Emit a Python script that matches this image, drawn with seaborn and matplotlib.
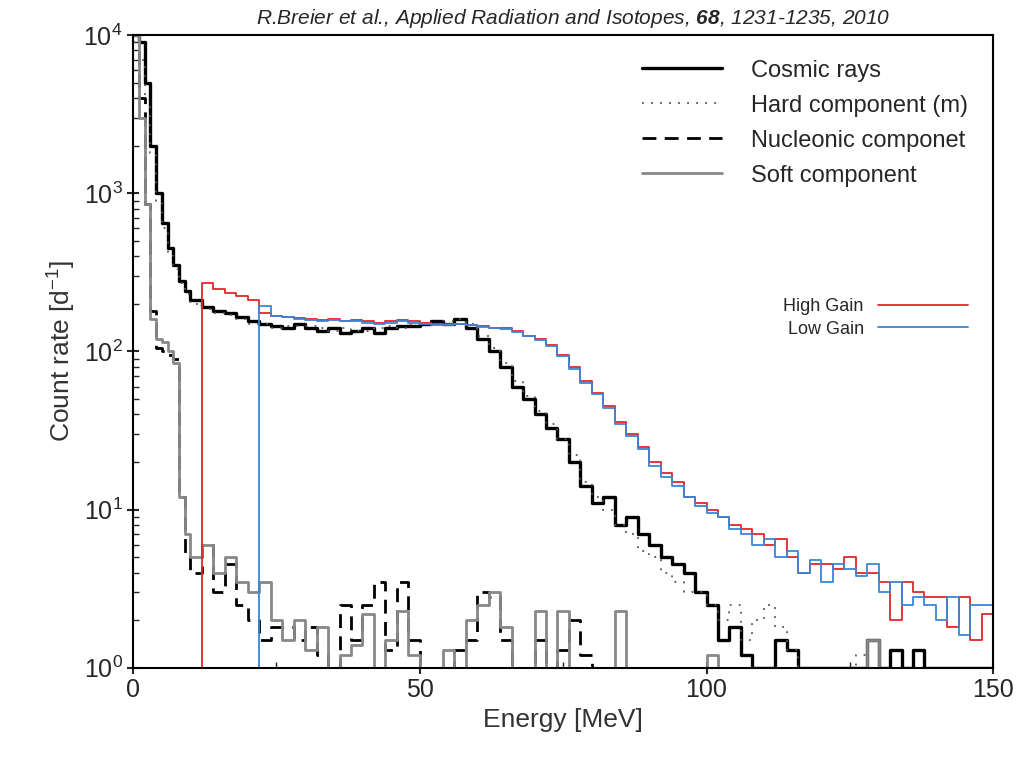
import numpy as np
import pandas as pd
import matplotlib
matplotlib.use('Agg')
import matplotlib.pyplot as plt
import seaborn as sns
from matplotlib.lines import Line2D

sns.set_theme(style='ticks')
plt.rcParams['font.family'] = ['Liberation Sans', 'DejaVu Sans']
plt.rcParams['mathtext.fontset'] = 'custom'
plt.rcParams['mathtext.it'] = 'Liberation Sans:italic'
plt.rcParams['mathtext.bf'] = 'Liberation Sans:bold:italic'
plt.rcParams['mathtext.rm'] = 'Liberation Sans'

# bin edges [MeV]: 1 MeV up to 10, then 2 MeV
edges = list(range(0, 10)) + list(range(10, 151, 2))

cosmic = [10000, 9000, 5000, 2000, 1000, 650, 450, 350, 280, 240,
          210, 190, 180, 175, 165, 155, 150, 145, 140, 150,
          140, 135, 140, 130, 135, 140, 130, 140, 145, 145,
          150, 155, 150, 160, 140, 120, 100, 80, 60, 50,
          40, 33, 28, 20, 14, 11, 12, 8, 9, 7,
          6, 5, 4.5, 4, 3, 2.5, 1.5, 1.8, 1.2, 1.0,
          1.0, 1.5, 1.3, 1.0, 1.0, 1.0, 1.0, 1.0, 1.0, 1.5,
          1.0, 1.3, 1.0, 1.3, 1.0, 1.0, 1.0, 1.0, 1.0, 1.0]

hard = [9000, 7000, 3500, 1800, 900, 600, 420, 330, 270, 230,
        200, 185, 175, 170, 160, 150, 150, 140, 145, 145,
        145, 140, 135, 140, 135, 135, 140, 145, 140, 150,
        150, 150, 155, 160, 150, 125, 105, 85, 65, 52,
        42, 35, 28, 22, 15, 12, 10, 8, 7, 5.5,
        5, 4, 3.5, 3, 3, 2.5, 2, 2.5, 1.5, 2.0,
        2.5, 1.8, 1.3, 1.0, 1.0, 1.0, 1.0, 1.0, 1.2, 1.0,
        1.0, 1.0, 1.0, 1.0, 1.0, 1.0, 1.0, 1.0, 1.0, 1.0]

nucleonic = [10000, 4000, 860, 180, 105, 100, 95, 90, 12, 5,
             4, 6, 3, 4.5, 2.5, 2, 1.5, 1.8, 1.8, 1.5,
             1.8, 1.2, 1.0, 2.5, 1.5, 2.5, 3.5, 1.3, 3.5, 1.5,
             1.0, 1.0, 1.0, 1.3, 1.5, 3, 2.8, 1.5, 1.0, 1.0,
             1.5, 1.0, 1.3, 2, 1.2, 1.0, 1.0, 1.0, 1.0, 1.0,
             1.0, 1.0, 1.0, 1.0, 1.0, 1.0, 1.0, 1.0, 1.0, 1.0,
             1.0, 1.0, 1.0, 1.0, 1.0, 1.0, 1.0, 1.0, 1.0, 1.0,
             1.0, 1.0, 1.0, 1.0, 1.0, 1.0, 1.0, 1.0, 1.0, 1.0]

soft = [10000, 3000, 850, 160, 120, 115, 100, 85, 12, 7,
        5, 6, 4, 5, 3.5, 3, 3.5, 2, 1.5, 2,
        1.3, 1.8, 1.0, 1.2, 1.4, 2.2, 1.0, 1.5, 2.3, 1.2,
        1.0, 1.0, 1.3, 1.0, 2, 2.5, 3, 1.8, 1.0, 1.0,
        2.3, 1.0, 2.3, 1.0, 1.0, 1.0, 1.0, 2.3, 1.0, 1.0,
        1.0, 1.0, 1.0, 1.0, 1.0, 1.2, 1.0, 1.0, 1.0, 1.0,
        1.0, 1.0, 1.0, 1.0, 1.0, 1.0, 1.0, 1.0, 1.0, 1.5,
        1.0, 1.0, 1.0, 1.0, 1.0, 1.0, 1.0, 1.0, 1.0, 1.0]

high_gain = [0.1] * 11 + [
    270, 250, 235, 225, 210, 175, 168, 165, 162,
    160, 158, 160, 155, 158, 155, 152, 155, 158, 155,
    152, 150, 150, 150, 148, 145, 140, 140, 135, 125,
    120, 110, 95, 80, 65, 55, 45, 36, 30, 25,
    20, 17, 15, 12, 11, 10, 9, 8, 7.5, 7,
    6, 6.5, 5, 4, 4.5, 4.5, 4.2, 5, 4, 4,
    3.5, 2, 3.5, 3, 2.8, 2.8, 1.8, 2.8, 1.5, 2.2]

low_gain = [0.1] * 16 + [
    195, 168, 165, 160,
    158, 155, 158, 155, 155, 152, 150, 152, 155, 152,
    150, 148, 148, 150, 146, 143, 140, 138, 133, 125,
    118, 108, 93, 78, 63, 54, 44, 35, 29, 24,
    19, 16, 14, 12, 10.5, 9.5, 9, 7.5, 7, 6,
    6.5, 5, 5.5, 4, 4.8, 3.5, 4.5, 4.2, 3.8, 4.5,
    3.0, 3.5, 2.5, 2.8, 2.5, 2.0, 2.8, 1.6, 2.5, 2.5]

series = [
    ('Cosmic rays', cosmic, dict(color='black', lw=2.4, ls='-')),
    ('Hard component (m)', hard, dict(color='#555555', lw=1.3, ls=(0, (1, 4)))),
    ('Nucleonic componet', nucleonic, dict(color='black', lw=2.0, ls=(0, (5, 3)))),
    ('Soft component', soft, dict(color='#888888', lw=2.0, ls='-')),
    ('High Gain', high_gain, dict(color='#e3262b', lw=1.3, ls='-')),
    ('Low Gain', low_gain, dict(color='#3a86d8', lw=1.3, ls='-')),
]

fig = plt.figure(figsize=(10.24, 7.64), dpi=100)
ax = fig.add_axes([0.13, 0.126, 0.84, 0.828])

for name, vals, st in series:
    df = pd.DataFrame({'E': edges, 'rate': list(vals) + [vals[-1]]})
    sns.lineplot(data=df, x='E', y='rate', ax=ax, drawstyle='steps-post',
                 color=st['color'], lw=st['lw'], ls=st['ls'], label=None)

ax.set_yscale('log')
ax.set_xlim(0, 150)
ax.set_ylim(1, 1e4)
ax.set_xticks([0, 50, 100, 150])
ax.set_xticks(np.arange(0, 151, 25), minor=True)
ax.set_xlabel('Energy [MeV]', fontsize=19, color='#333333')
ax.set_ylabel('Count rate [d$^{-1}$]', fontsize=19, color='#333333')
ax.tick_params(axis='both', which='major', labelsize=18, direction='inout', length=8, width=1.5)
ax.tick_params(axis='both', which='minor', direction='in', length=4)
for s in ax.spines.values():
    s.set_linewidth(1.5)
    s.set_color('black')

h1 = [Line2D([], [], **series[i][2]) for i in range(4)]
leg1 = ax.legend(h1, [series[i][0] for i in range(4)], loc='upper right',
                 bbox_to_anchor=(0.995, 0.995), frameon=False, fontsize=17,
                 handlelength=3.4, labelspacing=0.55, handletextpad=1.2)
ax.add_artist(leg1)
h2 = [Line2D([], [], color=series[i][2]['color'], lw=1.3) for i in (4, 5)]
ax.legend(h2, ['High Gain', 'Low Gain'], loc='upper right', bbox_to_anchor=(0.99, 0.61),
          frameon=False, fontsize=13, markerfirst=False, handlelength=5, labelspacing=0.3)

fig.text(0.56, 0.968, r'R.Breier et al., Applied Radiation and Isotopes, $\mathbf{68}$, 1231-1235, 2010',
         ha='center', fontsize=15, style='italic')

fig.savefig('out.png', dpi=100)
